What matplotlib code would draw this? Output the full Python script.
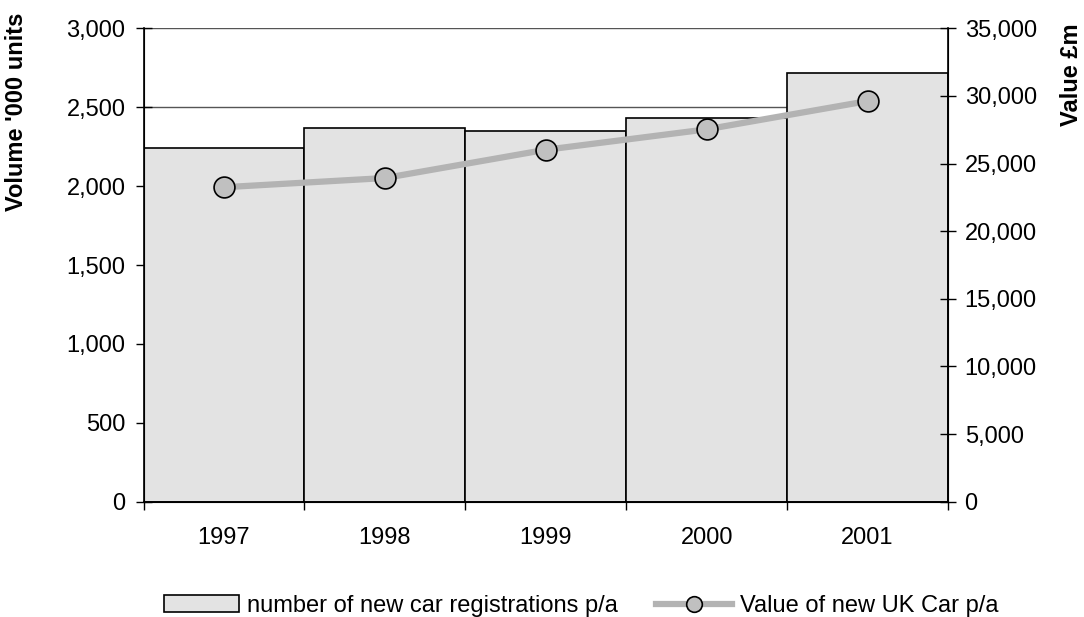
import matplotlib.pyplot as plt
from matplotlib.ticker import FuncFormatter, MultipleLocator

plt.rcParams['font.family'] = ['Liberation Sans', 'DejaVu Sans']

# ── DATA ──────────────────────────────────────────────────────────────────────
years = ['1997', '1998', '1999', '2000', '2001']
registrations = [2243, 2370, 2347, 2433, 2717]      # '000 units
car_value = [23250, 23930, 26020, 27530, 29620]     # £m

comma = FuncFormatter(lambda v, p: f'{int(v):,}')
FS = 17

# ── PLOT ──────────────────────────────────────────────────────────────────────
fig = plt.figure(figsize=(10.84, 6.17), dpi=100)
ax = fig.add_axes([0.1324, 0.1869, 0.7421, 0.7672])
pos = list(range(len(years)))

ax.bar(pos, registrations, width=1.0, color='#e3e3e3', edgecolor='black',
       linewidth=1.2, zorder=2, label='number of new car registrations p/a')
ax.set_xlim(-0.5, len(years) - 0.5)
ax.set_ylim(0, 3000)
ax.yaxis.set_major_locator(MultipleLocator(500))
ax.yaxis.set_major_formatter(comma)
ax.grid(axis='y', color='#555555', linewidth=1.0, zorder=0)
ax.set_axisbelow(True)

# x ticks at category boundaries, labels centred
ax.set_xticks([p - 0.5 for p in pos] + [len(years) - 0.5])
ax.set_xticklabels([])
ax.set_xticks(pos, minor=True)
ax.set_xticklabels(years, minor=True)
ax.tick_params(axis='x', which='major', length=6, width=1, color='black')
ax.tick_params(axis='x', which='minor', length=0, pad=18, labelsize=FS)
ax.tick_params(axis='y', direction='inout', length=12, width=1, labelsize=FS, pad=7)

ax.spines['top'].set_visible(False)
for s in ['left', 'bottom']:
    ax.spines[s].set_linewidth(1.2)

ax.set_ylabel("Volume '000 units", fontsize=FS, fontweight='bold')
ax.yaxis.set_label_coords(-0.1436, 0.824)

ax2 = ax.twinx()
ax2.plot(pos, car_value, color='#b3b3b3', linewidth=4.5, marker='o', markersize=15,
         markerfacecolor='#c0c0c0', markeredgecolor='black', markeredgewidth=1.2,
         zorder=3, label='Value of new UK Car p/a')
ax2.set_ylim(0, 35000)
ax2.yaxis.set_major_locator(MultipleLocator(5000))
ax2.yaxis.set_major_formatter(comma)
ax2.tick_params(axis='y', direction='inout', length=12, width=1, labelsize=FS, pad=6)
ax2.spines['top'].set_visible(False)
ax2.spines['right'].set_linewidth(1.2)
ax2.set_ylabel('Value £m', fontsize=FS, fontweight='bold')
ax2.yaxis.set_label_coords(1.139, 0.901)

h1, l1 = ax.get_legend_handles_labels()
h2, l2 = ax2.get_legend_handles_labels()
fig.legend(h1 + h2, l1 + l2, loc='center', bbox_to_anchor=(0.536, 0.018), ncol=2,
           frameon=False, fontsize=FS, handlelength=3.2, handletextpad=0.35,
           columnspacing=1.6, markerscale=0.75, borderpad=0)

fig.savefig('out.png', dpi=100)
